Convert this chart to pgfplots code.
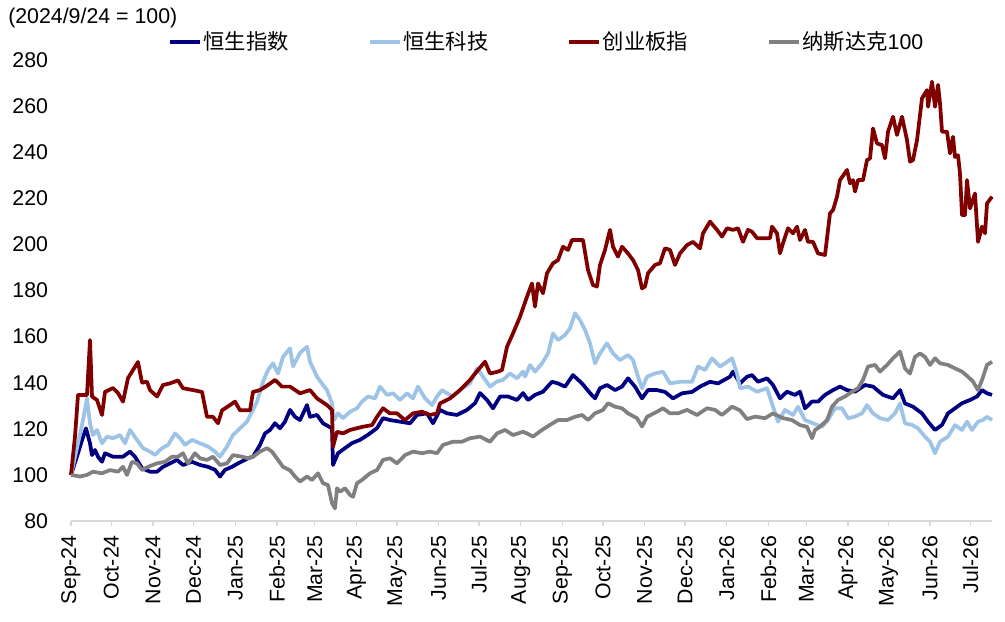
\documentclass[border=0pt]{standalone}
\usepackage{pgfplots}
\usepackage{pgfplotstable}
\pgfplotsset{compat=1.18}
\usepackage{fontspec}
\setmainfont{Liberation Sans}
\newfontfamily\cjk{Noto Sans CJK SC}
\definecolor{hsi}{RGB}{0,0,128}
\definecolor{hstech}{RGB}{157,195,230}
\definecolor{chinext}{RGB}{128,0,0}
\definecolor{ndx}{RGB}{128,128,128}
\definecolor{axisgray}{RGB}{217,217,217}

\pgfplotstableread{
t v
0 100
7 109.4
11 115.1
15 120.2
19 113.7
21 108.6
24 110.8
27 107.9
31 105.7
34 109.4
42 107.9
52 107.9
59 110.1
64 107.9
71 102.9
79 101.4
86 101.4
92 103.5
99 105
106 106.5
112 104.3
121 105.7
129 104.3
137 103.5
144 102.2
149 99.3
154 102.2
161 103.5
167 105
177 107.2
182 107.9
189 113
194 118
199 119.5
204 122.4
209 120.2
214 123.1
219 128.2
224 125.2
229 123.8
236 130.3
239 125.2
246 126
252 122.4
261 120.2
262 104.3
267 109.4
274 111.6
281 113.8
289 115.2
297 117.4
306 120.3
312 124.6
319 123.8
329 123.1
339 122.4
346 126
356 126.7
362 122.4
369 128.2
376 126.7
386 126
396 128.2
404 131.1
409 135.5
416 132.5
422 128.9
429 134
437 134
446 132.5
452 135.5
457 132.5
464 134.7
472 136.1
481 140.4
487 139.7
494 138.3
502 143.3
511 139.7
519 135.5
524 133.2
529 137.6
536 139
544 136.8
551 138.3
557 141.9
564 138.3
571 133.2
577 136.8
586 136.8
594 136
602 133.2
611 135.4
621 136
629 138.3
639 140.4
647 139.7
659 142.6
662 144.8
669 139.7
676 142.6
681 143.3
687 140.4
696 141.9
702 139
709 133.2
716 136.1
724 134.7
729 136.1
734 128.9
741 131.8
747 131.8
754 134.7
762 136.8
769 138.3
776 136.8
784 136.1
794 139
802 138.3
812 134.7
822 133.2
829 136.8
834 131
842 129.6
851 126.7
857 123.1
864 119.5
871 121.7
877 126.7
884 128.9
891 131.1
899 132.5
906 134
911 136.8
916 135.4
921 134.7
}\hsitab

\pgfplotstableread{
t v
0 100
7 113.7
12 123.8
16 133.2
19 122.4
22 117.3
26 119.5
31 113.7
36 116.6
42 115.9
49 117.3
54 113.7
59 119.5
66 115.2
72 111.6
79 110.1
84 108.7
91 111.6
97 113
104 118
109 115.9
114 113
121 115.2
129 113.7
137 112.3
144 110.1
149 107.9
156 112.3
162 117.3
169 120.2
176 123.1
181 127.4
186 131.8
192 140.4
197 145.5
202 148.4
207 144
212 151.2
219 154.9
222 147.1
229 152.9
236 155.6
239 149.1
246 142.6
252 139
256 136.8
261 131
263 123.8
267 126.7
272 124.6
279 127.4
286 128.9
291 131.8
297 134
304 133.2
309 138.3
316 134.7
322 135.4
329 132.5
336 135.4
342 133.2
347 138.3
354 133.2
361 130.3
366 134
371 136.8
376 135.4
382 134
389 136.8
399 139.7
406 146.2
412 142.6
419 138.3
426 140.5
432 141.2
439 144
446 141.9
452 144.8
454 142.6
459 147.7
464 144.8
471 148.4
477 152.7
482 161.4
487 158.5
494 160.7
499 163.6
504 170.1
509 167.2
514 162.9
519 157.1
524 148.4
529 152.7
536 157.1
542 152.7
549 149.8
557 152
562 149.8
567 142.6
571 137.6
576 142.6
584 144
592 144.8
599 139.7
609 140.4
621 140.4
627 147
634 145.5
641 150.6
649 147
654 148.4
661 150.6
666 144
669 137.6
677 138.3
686 136.1
696 137.6
702 129.6
707 123.1
714 128.2
722 126
727 129.6
734 123.8
742 122.4
751 120.9
757 123.8
764 128.9
771 128.9
777 124.6
784 125.3
791 126.7
796 130.3
802 126.7
809 124.6
817 123.8
824 126.7
829 131
834 122.4
841 121.7
847 120.2
854 116.6
859 114.4
864 109.4
869 114.4
877 116.6
884 121.6
891 119.5
896 123.1
901 119.5
907 123.1
912 123.8
916 125.2
921 123.8
}\hstechtab

\pgfplotstableread{
t v
0 100
4 116.6
7 134.7
16 134.7
19 158.5
21 134
26 132.5
31 126
34 136
42 137.7
47 135.5
52 131.8
57 142
62 145.5
67 149
71 140
76 140.4
79 136.8
86 134
92 139
99 139.7
107 141
112 137.6
122 136.8
131 136
136 125.2
142 125.2
147 122.4
151 128
159 130.3
164 131.8
169 128
179 128
182 136
189 136.8
197 139
204 141.2
211 138.3
219 138.3
229 135.4
239 136.8
246 133.2
256 130.3
261 128.1
262 112.2
266 118.7
272 118
279 119.5
292 120.9
301 121.6
306 125.2
312 128.9
319 126.7
326 126.7
334 123.8
342 126.7
351 127.4
359 126
366 126.7
369 131
379 133.2
389 136.8
399 141.2
407 145.5
414 149.1
419 144
427 144.8
431 145.5
436 155.6
442 161.4
449 168.6
456 177.3
461 183.1
464 173
467 183.1
472 178.8
476 187.5
482 191.8
487 193.2
492 199
497 197.6
501 201.9
512 201.9
517 188.9
522 182.4
526 181.7
529 191.1
534 197.6
539 206.3
542 199
547 194.7
551 199
557 196.1
562 193.2
567 188.9
571 180.9
574 181.7
577 187.5
584 191.1
589 191.8
594 198.3
599 197.6
604 191.1
609 196.1
616 199.7
622 201.1
629 198.3
632 204.8
639 209.9
646 206.3
651 203.4
656 207
662 206.3
667 207
672 201.1
677 206.3
681 205.5
686 202.7
699 202.7
701 207.7
706 204.8
709 196.1
712 200.5
717 207
722 204.8
726 207.7
729 201.9
734 206.3
737 201.1
742 201.1
747 196.1
754 195.4
757 206.3
759 213.5
762 214.9
766 220.7
769 227.9
776 232.3
779 226.5
782 227.9
784 222.9
787 227.9
792 227.9
796 236.6
799 237.3
802 250.3
806 243.8
811 243.1
814 237.3
817 248.9
822 255.4
826 247.5
831 255.4
836 245.2
839 235.9
842 236.6
846 245.2
851 263.4
856 266.9
857 259.7
861 270.6
864 259.7
867 269.2
869 261.2
871 248.9
876 248.9
879 239.5
882 246.7
884 237.9
887 238.7
889 230.7
891 212.7
894 212.7
896 227.9
899 215.6
904 222.1
907 201.1
911 207.7
914 204.8
916 217.8
921 220.7
}\chinexttab

\pgfplotstableread{
t v
0 100
9 99.3
16 100
22 101.4
31 100.7
39 102.1
47 101.4
52 103.5
56 100
61 105.7
66 105
71 102.1
77 103.5
86 105
94 105.7
101 107.9
107 107.9
112 109.4
117 105
124 109.4
129 107.2
136 106.5
142 107.9
149 104.3
156 105
162 108.6
171 107.9
177 107.2
182 107.9
189 110.1
196 111.6
201 110.1
207 106.5
212 103.5
219 102
224 99.3
229 97.1
236 99.3
241 97.8
247 100.7
252 96.4
257 95.6
261 87.7
264 85.5
266 94.2
269 92.7
274 94.2
279 91.3
282 90.5
286 96.4
291 97.8
299 100.7
306 102.1
312 106.5
319 107.2
326 105
334 108.6
342 110.1
351 109.4
359 110.1
366 109.4
372 113
382 114.4
391 114.4
399 115.9
409 116.6
419 114.4
426 118
434 119.5
442 117.3
452 118.7
456 118
462 116.6
471 119.5
479 121.7
487 123.8
496 123.8
504 125.2
511 126
517 123.8
524 126.7
532 128.2
537 131.1
544 129.6
551 128.9
557 126.7
566 124.6
571 121
576 125.2
586 127.4
592 128.9
599 126.7
607 126.7
616 128.2
626 126
636 128.9
644 128.2
651 126
661 129.6
669 128
676 124.2
684 125.3
694 124.6
702 126.7
712 124.6
721 123.8
729 121.6
736 120.9
741 115.9
744 119.5
749 120.9
756 123.8
761 129.6
767 132.5
774 134
781 136.1
787 137.6
792 141.2
797 147
804 147.7
809 144.8
816 147.7
822 150.6
829 153.5
834 146.2
839 144
844 151.2
849 152.7
854 151.2
859 147.7
864 150.6
869 148.4
877 147.7
884 146.2
891 144.8
897 142.6
902 140.5
907 136.8
911 141.2
916 147.7
921 149.1
}\ndxtab

\begin{document}
\fontsize{16}{19}\selectfont
\begin{tikzpicture}
\useasboundingbox (0,0) rectangle (753.75pt,465.75pt);
\node[anchor=west, inner sep=0pt] at (6pt,452.25pt) {(2024/9/24 = 100)};
\begin{axis}[
  at={(53.25pt,75pt)}, anchor=south west,
  scale only axis, width=690.75pt, height=345.75pt,
  xmin=0, xmax=921, ymin=80, ymax=280,
  clip=false,
  ytick={80,100,...,280},
  xtick={0,40.4,82.1,122.5,164.3,206,243.7,285.5,325.9,367.6,408,449.7,491.5,531.9,573.6,614,655.7,697.5,735.2,776.9,817.3,859.1,899.5},
  xticklabels={Sep-24,Oct-24,Nov-24,Dec-24,Jan-25,Feb-25,Mar-25,Apr-25,May-25,Jun-25,Jul-25,Aug-25,Sep-25,Oct-25,Nov-25,Dec-25,Jan-26,Feb-26,Mar-26,Apr-26,May-26,Jun-26,Jul-26},
  axis x line*=bottom, axis y line*=left,
  y axis line style={draw=none},
  x axis line style={draw=axisgray, line width=1pt, -},
  ytick style={draw=none},
  xtick style={draw=axisgray, line width=1pt},
  tick align=outside, major tick length=4pt,
  /pgf/number format/assume math mode=true,
  every tick label/.append style={font=\fontsize{16}{19}\selectfont, text=black},
  xticklabel style={rotate=90, anchor=east, inner ysep=0pt, inner xsep=6.5pt},
  yticklabel style={anchor=east, inner sep=0pt, xshift=-13pt},
  legend columns=4,
  legend style={draw=none, fill=none, at={(axis description cs:0.1053,1.039)}, anchor=west,
    inner sep=0pt, outer sep=0pt, nodes={inner sep=1pt},
    /tikz/every even column/.append style={column sep=58pt},
    font=\fontsize{16}{19}\selectfont},
  legend cell align=left,
  legend image code/.code={\draw[#1, line width=3.2pt] (0pt,0pt) -- (22.5pt,0pt);},
]
\addplot[hsi, line width=2.8pt, line join=round] table[x=t,y=v] {\hsitab};
\addlegendentry{\cjk 恒生指数}
\addplot[hstech, line width=2.8pt, line join=round] table[x=t,y=v] {\hstechtab};
\addlegendentry{\cjk 恒生科技}
\addplot[chinext, line width=2.8pt, line join=round] table[x=t,y=v] {\chinexttab};
\addlegendentry{\cjk 创业板指}
\addplot[ndx, line width=2.8pt, line join=round] table[x=t,y=v] {\ndxtab};
\addlegendentry{{\cjk 纳斯达克}100}
\end{axis}
\end{tikzpicture}
\end{document}
